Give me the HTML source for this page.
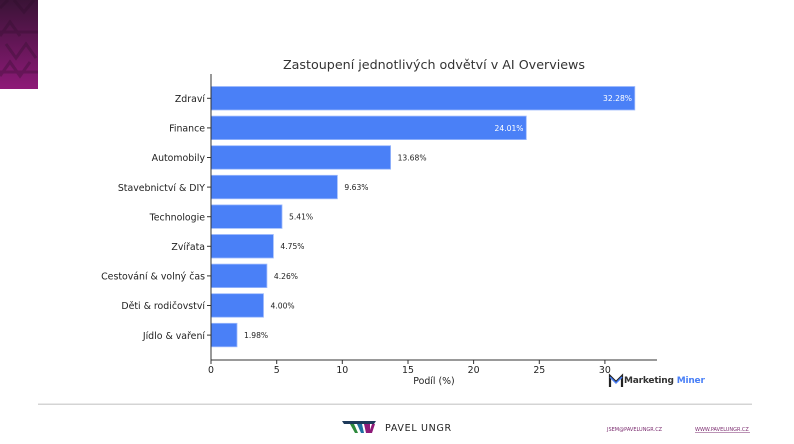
<!DOCTYPE html>
<html><head><meta charset="utf-8"><style>
html,body{margin:0;padding:0;background:#fff;width:794px;height:444px;overflow:hidden}
svg{display:block}
text{font-family:"DejaVu Sans","Liberation Sans",sans-serif}
</style></head><body>
<svg width="794" height="444" viewBox="0 0 794 444" xmlns="http://www.w3.org/2000/svg">
<defs>
<linearGradient id="mg" x1="0" y1="0" x2="0" y2="1">
<stop offset="0" stop-color="#3a1336"/><stop offset="1" stop-color="#8e1a78"/>
</linearGradient>
</defs>
<rect x="0" y="0" width="38" height="89" fill="url(#mg)"/>
<g stroke="#2a0c28" stroke-opacity="0.3" stroke-width="3" fill="none">
<path d="M0 8 L8 0 M14 0 L24 12 L34 0"/>
<path d="M0 36 L10 22 L20 36 M0 32 L38 32"/>
<path d="M6 44 L16 58 L26 44 L36 58"/>
<path d="M0 76 L10 62 L20 76 L30 62 M0 72 L38 72"/>
</g>
<text x="434" y="69" font-size="12.7" text-anchor="middle" fill="#333">Zastoupení jednotlivých odvětví v AI Overviews</text>
<g fill="#4a80f7" stroke="#9dbafc" stroke-width="0.8">
<rect x="211" y="86.5" width="423.8" height="23.5"/>
<rect x="211" y="116.1" width="315.3" height="23.5"/>
<rect x="211" y="145.7" width="179.6" height="23.5"/>
<rect x="211" y="175.3" width="126.4" height="23.5"/>
<rect x="211" y="204.9" width="71.0" height="23.5"/>
<rect x="211" y="234.5" width="62.4" height="23.5"/>
<rect x="211" y="264.1" width="55.9" height="23.5"/>
<rect x="211" y="293.7" width="52.5" height="23.5"/>
<rect x="211" y="323.3" width="26.0" height="23.5"/>
</g>
<g stroke="#333" stroke-width="1">
<line x1="211" y1="74" x2="211" y2="360"/>
<line x1="210.5" y1="360" x2="657" y2="360"/>
<g>
<line x1="207" x2="211" y1="98.3" y2="98.3"/><line x1="207" x2="211" y1="127.9" y2="127.9"/>
<line x1="207" x2="211" y1="157.5" y2="157.5"/><line x1="207" x2="211" y1="187.1" y2="187.1"/>
<line x1="207" x2="211" y1="216.7" y2="216.7"/><line x1="207" x2="211" y1="246.3" y2="246.3"/>
<line x1="207" x2="211" y1="275.9" y2="275.9"/><line x1="207" x2="211" y1="305.5" y2="305.5"/>
<line x1="207" x2="211" y1="335.1" y2="335.1"/>
</g>
<g>
<line x1="211" x2="211" y1="360" y2="364"/><line x1="276.7" x2="276.7" y1="360" y2="364"/>
<line x1="342.3" x2="342.3" y1="360" y2="364"/><line x1="408" x2="408" y1="360" y2="364"/>
<line x1="473.6" x2="473.6" y1="360" y2="364"/><line x1="539.3" x2="539.3" y1="360" y2="364"/>
<line x1="604.9" x2="604.9" y1="360" y2="364"/>
</g>
</g>
<g font-size="9.4" fill="#222" text-anchor="end">
<text x="205" y="102">Zdraví</text>
<text x="205" y="131.6">Finance</text>
<text x="205" y="161.2">Automobily</text>
<text x="205" y="190.8">Stavebnictví &amp; DIY</text>
<text x="205" y="220.4">Technologie</text>
<text x="205" y="250">Zvířata</text>
<text x="205" y="279.6">Cestování &amp; volný čas</text>
<text x="205" y="309.2">Děti &amp; rodičovství</text>
<text x="205" y="338.8">Jídlo &amp; vaření</text>
</g>
<g font-size="7.6" fill="#222">
<text x="632" y="101.2" fill="#fff" text-anchor="end">32.28%</text>
<text x="523.5" y="130.8" fill="#fff" text-anchor="end">24.01%</text>
<text x="397.6" y="160.4">13.68%</text>
<text x="344.4" y="190">9.63%</text>
<text x="289" y="219.6">5.41%</text>
<text x="280.4" y="249.2">4.75%</text>
<text x="273.9" y="278.8">4.26%</text>
<text x="270.5" y="308.4">4.00%</text>
<text x="244" y="338">1.98%</text>
</g>
<g font-size="9.4" fill="#222" text-anchor="middle">
<text x="211" y="373">0</text><text x="276.7" y="373">5</text><text x="342.3" y="373">10</text>
<text x="408" y="373">15</text><text x="473.6" y="373">20</text><text x="539.3" y="373">25</text>
<text x="604.9" y="373">30</text>
<text x="434" y="384">Podíl (%)</text>
</g>
<path d="M610 387 L610 376 L616 382 L622 376 L622 387" stroke="#222" stroke-width="2.2" fill="none"/>
<path d="M610 377 L616 383 L622 377" stroke="#4a80f7" stroke-width="1.5" fill="none"/>
<text x="624" y="383" font-size="9" font-weight="bold" fill="#333" font-family="Liberation Sans,sans-serif" letter-spacing="-0.2">Marketing <tspan fill="#4a80f7">Miner</tspan></text>
<rect x="38" y="403.5" width="714" height="1.5" fill="#d4d4d4"/>
<path d="M342 421 L376 421 L374 424 L344 424 Z" fill="#1e3a5a"/>
<path d="M350 424 L355 433 L358 433 L354 424 Z" fill="#2e8a3c"/>
<path d="M357 424 L361 433 L364 433 L362 424 Z" fill="#1d6fa0"/>
<path d="M364 424 L366 433 L370 433 L370 424 Z" fill="#8e1a78"/>
<path d="M372 424 L369 433 L372 433 L375 424 Z" fill="#8e1a78"/>
<text x="385" y="431" font-size="9.5" fill="#222" font-family="Liberation Sans,sans-serif" letter-spacing="0.7">PAVEL UNGR</text>
<text x="607" y="431" font-size="5" fill="#7a2a6e" font-family="Liberation Sans,sans-serif">JSEM@PAVELUNGR.CZ</text>
<text x="695" y="431" font-size="5" fill="#7a2a6e" font-family="Liberation Sans,sans-serif">WWW.PAVELUNGR.CZ</text>
<line x1="695" x2="750" y1="432.5" y2="432.5" stroke="#7a2a6e" stroke-width="0.5"/>
</svg>
</body></html>
